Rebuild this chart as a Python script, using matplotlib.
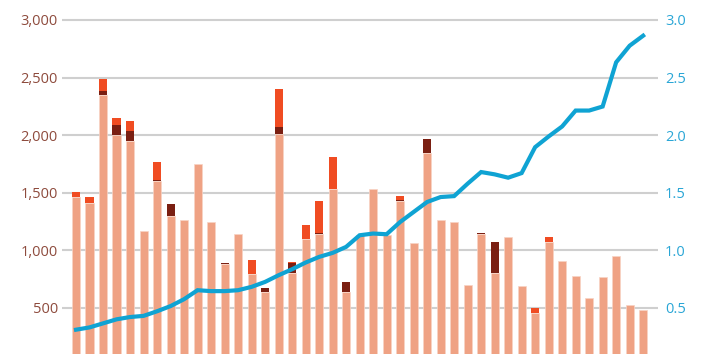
import matplotlib
matplotlib.use("Agg")
import matplotlib.pyplot as plt
import numpy as np

plt.rcParams['font.family'] = ['Open Sans', 'DejaVu Sans']

# stacked bar segments (left axis)
base = [1460, 1410, 2350, 2000, 1950, 1165, 1600, 1295, 1265, 1750,
        1245, 880, 1145, 790, 640, 2010, 800, 1100, 1140, 1530,
        640, 1130, 1530, 1130, 1430, 1060, 1845, 1265, 1245, 700,
        1145, 800, 1115, 690, 455, 1070, 905, 775, 585, 765,
        950, 525, 480]
dark = [0, 0, 30, 85, 85, 0, 10, 110, 0, 0,
        0, 8, 0, 8, 35, 57, 85, 0, 10, 0,
        85, 0, 0, 0, 8, 0, 125, 0, 0, 0,
        8, 270, 0, 0, 0, 0, 0, 0, 0, 0,
        0, 0, 0]
red = [50, 55, 105, 65, 90, 0, 155, 0, 0, 0,
       0, 0, 0, 115, 0, 330, 15, 120, 277, 282,
       0, 0, 0, 0, 30, 0, 0, 0, 0, 0,
       0, 0, 0, 0, 40, 45, 0, 0, 0, 0,
       0, 0, 0]

# line series (right axis)
line = [0.31, 0.33, 0.365, 0.40, 0.42, 0.43, 0.47, 0.515, 0.575, 0.653,
        0.645, 0.645, 0.653, 0.682, 0.725, 0.783, 0.835, 0.893, 0.942, 0.977,
        1.029, 1.13, 1.145, 1.139, 1.245, 1.332, 1.419, 1.462, 1.47, 1.578,
        1.679, 1.659, 1.63, 1.67, 1.895, 1.988, 2.075, 2.213, 2.213, 2.248,
        2.632, 2.776, 2.863]

left_ticks = [500, 1000, 1500, 2000, 2500, 3000]
right_ticks = [0.5, 1.0, 1.5, 2.0, 2.5, 3.0]

x = np.arange(len(base))
base = np.array(base)
dark = np.array(dark)
red = np.array(red)

fig = plt.figure(figsize=(7.08, 3.54), dpi=100)
ax = fig.add_axes([62 / 708, 0, (658 - 62) / 708, 1])
ax.set_axisbelow(True)

w = 0.6
ax.bar(x, base, width=w, color='#EFA284', edgecolor='#F8D3C4', linewidth=0.5, zorder=2)
ax.bar(x, dark, bottom=base, width=w, color='#7A1F12', linewidth=0, zorder=2)
ax.bar(x, red, bottom=base + dark, width=w, color='#F04C22', linewidth=0, zorder=2)

ax.set_xlim(-1.04, 43.1)
ax.set_ylim(99, 3173)
ax.set_yticks(left_ticks)
ax.set_yticklabels([f"{t:,}" for t in left_ticks])
ax.yaxis.grid(True, color='#CFCFCF', linewidth=1.5)
ax.set_xticks([])
ax.tick_params(axis='y', length=0, pad=3, labelsize=10.5, labelcolor='#8E4B3D')
for s in ax.spines.values():
    s.set_visible(False)

ax2 = ax.twinx()
ax2.plot(x, line, color='#0FA3D3', linewidth=3, solid_joinstyle='miter', zorder=3)
ax2.set_ylim(0.099, 3.173)
ax2.set_yticks(right_ticks)
ax2.set_yticklabels([f"{t:.1f}" for t in right_ticks])
ax2.tick_params(axis='y', length=0, pad=5, labelsize=10.5, labelcolor='#2AA6D6')
for s in ax2.spines.values():
    s.set_visible(False)

fig.savefig('out.png', dpi=100)
